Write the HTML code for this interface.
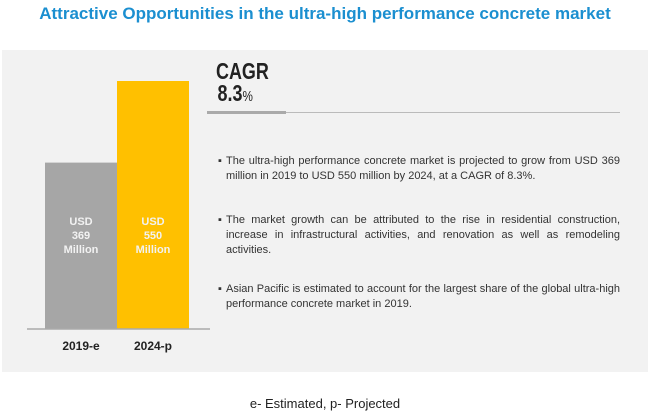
<!DOCTYPE html>
<html><head><meta charset="utf-8"><style>
body{margin:0;width:650px;height:418px;background:#fff;font-family:"Liberation Sans",sans-serif;position:relative;overflow:hidden}
.title{position:absolute;top:4px;left:0;width:650px;text-align:center;color:#1b8fd0;font-weight:bold;font-size:17px}
.panel{position:absolute;left:2px;top:50px;width:646px;height:322px;background:#f2f2f2}
.cagr{position:absolute;left:216px;top:60px;font-weight:bold;font-size:23px;color:#222;line-height:22px;transform:scaleX(0.78);transform-origin:0 0}
.b{position:absolute;left:226px;width:394px;font-size:11px;color:#333;line-height:15px;text-align:justify}
.b span{position:absolute;left:-8px}
.foot{position:absolute;top:396px;left:0;width:650px;text-align:center;font-size:13px;color:#222}
</style></head><body>
<div class="title">Attractive Opportunities in the ultra-high performance concrete market</div>
<div class="panel"></div>
<svg id="chart" width="650" height="418" style="position:absolute;left:0;top:0"></svg>
<div class="cagr">CAGR<br><span style="margin-left:2px">8.3</span><span style="font-size:15px;font-weight:normal">%</span></div>
<div style="position:absolute;left:207px;top:112px;width:413px;height:1px;background:#bbb"></div>
<div style="position:absolute;left:207px;top:111px;width:79px;height:3px;background:#aaa"></div>
<div class="b" style="top:154px"><span>▪</span>The ultra-high performance concrete market is projected to grow from USD 369 million in 2019 to USD 550 million by 2024, at a CAGR of 8.3%.</div>
<div class="b" style="top:213px"><span>▪</span>The market growth can be attributed to the rise in residential construction, increase in infrastructural activities, and renovation as well as remodeling activities.</div>
<div class="b" style="top:282px"><span>▪</span>Asian Pacific is estimated to account for the largest share of the global ultra-high performance concrete market in 2019.</div>
<div class="foot">e- Estimated, p- Projected</div>
<script>
const categories=["2019-e","2024-p"];
const values=[369,550];
const colors=["#a6a6a6","#ffc000"];
const svg=document.getElementById('chart');
const NS='http://www.w3.org/2000/svg';
const base=329, scale=248/550, x0=45, bw=72;
function y(v){return base-v*scale;}
categories.forEach((c,i)=>{
  const r=document.createElementNS(NS,'rect');
  r.setAttribute('x',x0+i*bw);r.setAttribute('y',y(values[i]));
  r.setAttribute('width',bw);r.setAttribute('height',base-y(values[i]));
  r.setAttribute('fill',colors[i]);
  
  
  svg.appendChild(r);
  ["USD",String(values[i]),"Million"].forEach((t,k)=>{
    const tx=document.createElementNS(NS,'text');
    tx.setAttribute('x',x0+i*bw+bw/2);tx.setAttribute('y',225+k*14);
    tx.setAttribute('text-anchor','middle');tx.setAttribute('font-size','11');
    tx.setAttribute('font-weight','bold');tx.setAttribute('fill','#f2f2f2');
    tx.setAttribute('font-family','Liberation Sans, sans-serif');
    tx.textContent=t;
    
    
    svg.appendChild(tx);
  });
  const l=document.createElementNS(NS,'text');
  l.setAttribute('x',x0+i*bw+bw/2);l.setAttribute('y',350);
  l.setAttribute('text-anchor','middle');l.setAttribute('font-size','12');
  l.setAttribute('font-weight','bold');l.setAttribute('fill','#222');
  l.setAttribute('font-family','Liberation Sans, sans-serif');
  l.textContent=c;
  
  
  svg.appendChild(l);
});
const ax=document.createElementNS(NS,'line');
ax.setAttribute('x1',27);ax.setAttribute('x2',210);ax.setAttribute('y1',base);ax.setAttribute('y2',base);
ax.setAttribute('stroke','#aaa');ax.setAttribute('stroke-width','1.5');


svg.appendChild(ax);
</script>
</body></html>
